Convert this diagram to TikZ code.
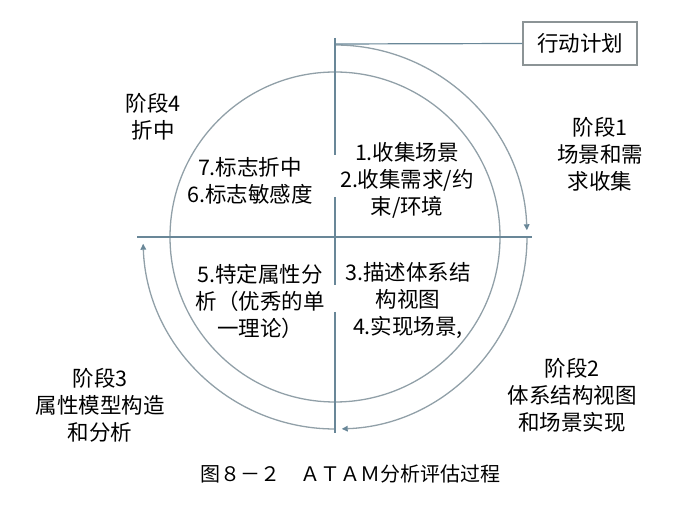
\documentclass[tikz,border=0pt]{standalone}
\usepackage{fontspec}
\newfontfamily\cjk{Noto Sans CJK SC}
\usetikzlibrary{arrows.meta}
\definecolor{traitbleu}{RGB}{105,135,152}
\definecolor{anneau}{RGB}{145,160,168}
\definecolor{cadre}{RGB}{140,148,150}

\begin{document}
\begin{tikzpicture}[x=1pt,y=1pt]
    \tikzset{
        axestyle/.style={traitbleu, line width=1.2pt},
        ringstyle/.style={anneau, line width=1.3pt},
        arrowring/.style={ringstyle, -{Triangle[length=6pt,width=5.5pt,color=traitbleu]}},
        textstyle/.style={font=\cjk\fontsize{21.5}{27}\selectfont, align=center, inner sep=0pt},
        boxstyle/.style={draw=cadre, line width=1.3pt, minimum width=114pt, minimum height=43pt, font=\cjk\fontsize{21.5}{27}\selectfont}
    }
    \useasboundingbox (0,0) rectangle (692,505);

    % Centre et points des axes
    \coordinate (centre) at (335,268);
    \coordinate (vtop) at (335,467);
    \coordinate (v1) at (335,350);
    \coordinate (v2) at (335,308);
    \coordinate (v3) at (335,220);
    \coordinate (v4) at (335,193);
    \coordinate (vbot) at (335,72);
    \coordinate (hleft) at (137,268);
    \coordinate (hright) at (532,268);
    \coordinate (top) at (335,461);

    % Cercle intérieur
    \draw[ringstyle] (centre) circle[radius=165pt];

    % Cercle extérieur (trois arcs fléchés)
    \draw[arrowring] ([shift={(90:192pt)}]centre) arc[start angle=90, end angle=2, radius=192pt];
    \draw[arrowring] ([shift={(0:192pt)}]centre) arc[start angle=0, end angle=-88, radius=192pt];
    \draw[arrowring] ([shift={(270:192pt)}]centre) arc[start angle=270, end angle=182, radius=192pt];

    % Axes
    \draw[axestyle] (hleft) -- (hright);
    \draw[axestyle] (vtop) -- (v1);
    \draw[axestyle] (v2) -- (v3);
    \draw[axestyle] (v4) -- (vbot);

    % Plan d'action
    \node[boxstyle] (plan) at (580,461.5) {行动计划};
    \draw[axestyle] (top) -- (plan.west);

    % Étapes
    \node[textstyle] (stage1) at (600,351) {阶段1\\场景和需\\求收集};
    \node[textstyle] (stage2) at (572,110) {阶段2\\体系结构视图\\和场景实现};
    \node[textstyle] (stage3) at (100,100) {阶段3\\属性模型构造\\和分析};
    \node[textstyle] (stage4) at (153,388) {阶段4\\折中};

    % Activités
    \node[textstyle] (step12) at (407,325) {1.收集场景\\2.收集需求/约\\束/环境};
    \node[textstyle] (step34) at (408,204) {3.描述体系结\\构视图\\4.实现场景,};
    \node[textstyle] (step5) at (260,204) {5.特定属性分\\析（优秀的单\\一理论）};
    \node[textstyle] (step76) at (250,324) {7.标志折中\\6.标志敏感度};

    % Légende
    \node[textstyle, font=\cjk\fontsize{20}{24}\selectfont] (caption) at (350,31) {图８－２　ＡＴＡＭ分析评估过程};
\end{tikzpicture}
\end{document}
